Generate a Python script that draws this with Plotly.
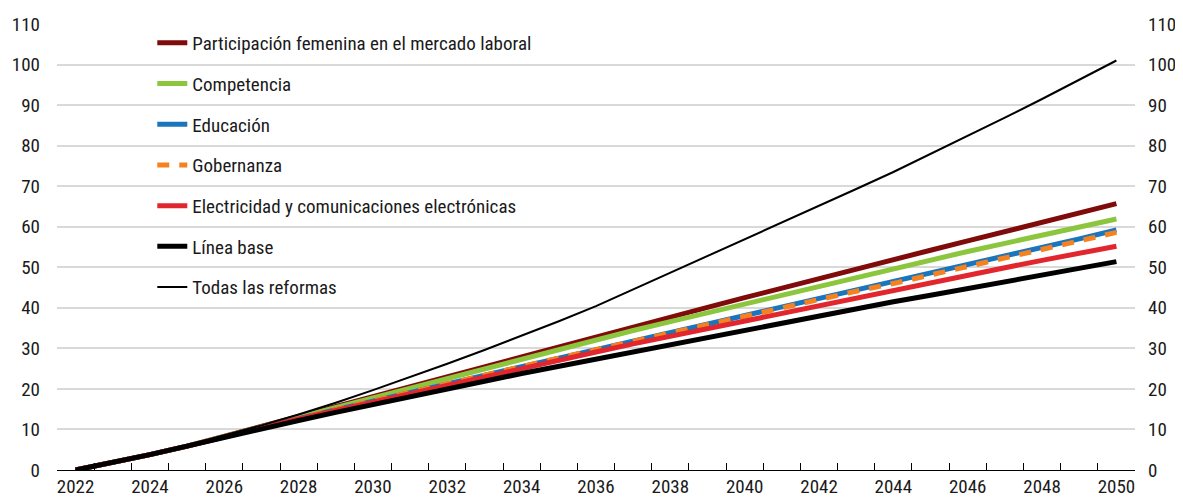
import plotly.graph_objects as go

anios = list(range(2022, 2051))

participacion = [0, 1.8, 3.8, 5.9, 8.3, 10.7, 13.2, 15.6, 18.0, 20.4, 22.9, 25.4, 27.9, 30.4, 32.9,
                 35.3, 37.7, 40.1, 42.5, 44.9, 47.3, 49.6, 51.9, 54.2, 56.5, 58.8, 61.1, 63.4, 65.7]
competencia = [0, 1.8, 3.8, 5.9, 8.3, 10.7, 13.1, 15.5, 17.9, 20.3, 22.7, 25.1, 27.5, 29.9, 32.2,
               34.4, 36.6, 38.8, 41.0, 43.2, 45.4, 47.6, 49.7, 51.8, 53.9, 55.9, 57.9, 59.9, 61.9]
educacion = [0, 1.8, 3.8, 5.9, 8.2, 10.4, 12.7, 14.9, 17.0, 19.2, 21.3, 23.4, 25.5, 27.6, 29.7,
             31.8, 33.9, 36.0, 38.0, 40.1, 42.1, 44.1, 46.2, 48.3, 50.5, 52.6, 54.8, 57.0, 59.2]
gobernanza = [0, 1.8, 3.8, 5.9, 8.2, 10.4, 12.7, 14.9, 17.0, 19.2, 21.3, 23.4, 25.5, 27.6, 29.7,
              31.8, 33.9, 36.0, 38.0, 40.1, 42.1, 44.1, 46.0, 48.1, 50.2, 52.3, 54.4, 56.5, 58.6]
electricidad = [0, 1.8, 3.8, 5.9, 8.2, 10.4, 12.6, 14.7, 16.8, 18.9, 21.0, 23.1, 25.1, 27.1, 29.1,
                31.1, 33.0, 35.0, 36.9, 38.8, 40.7, 42.6, 44.5, 46.3, 48.1, 49.9, 51.7, 53.5, 55.2]
linea_base = [0, 1.8, 3.8, 5.9, 8.1, 10.2, 12.2, 14.2, 16.2, 18.1, 20.0, 21.9, 23.8, 25.6, 27.4,
              29.2, 31.0, 32.8, 34.6, 36.4, 38.1, 39.8, 41.5, 43.1, 44.8, 46.4, 48.0, 49.7, 51.4]
todas = [0, 1.9, 3.9, 6.1, 8.5, 11.0, 13.7, 16.6, 19.7, 22.9, 26.2, 29.6, 33.1, 36.7, 40.4,
         44.5, 48.8, 52.9, 57.0, 61.1, 65.2, 69.3, 73.5, 77.9, 82.4, 86.9, 91.5, 96.2, 101.0]

etiquetas_x = list(range(2022, 2051, 2))
ticks_y = list(range(0, 111, 10))

fuente = 'Liberation Sans Narrow, Arial Narrow, Roboto Condensed, DejaVu Sans Condensed, sans-serif'

series = [
    ('Participación femenina en el mercado laboral', participacion, '#800b0b', 5, 'solid'),
    ('Competencia', competencia, '#8cc63f', 5, 'solid'),
    ('Educación', educacion, '#1b75bc', 5, 'solid'),
    ('Gobernanza', gobernanza, '#f58220', 5, '12px,10px'),
    ('Electricidad y comunicaciones electrónicas', electricidad, '#e1262d', 5, 'solid'),
    ('Línea base', linea_base, '#000000', 5, 'solid'),
    ('Todas las reformas', todas, '#000000', 2, 'solid'),
]

fig = go.Figure()

for i, (nombre, valores, color, ancho, guion) in enumerate(series):
    fig.add_trace(go.Scatter(x=anios, y=valores, name=nombre, mode='lines',
                             legendgroup=str(i),
                             line=dict(color=color, width=ancho, dash=guion)))

# ejes secundarios: etiquetas de años y eje derecho
fig.add_trace(go.Scatter(x=anios[:1], y=[0], xaxis='x2', yaxis='y2', mode='lines', opacity=0,
                         showlegend=False, hoverinfo='skip'))

# marcas entre categorías
limites = [a - 0.5 for a in anios] + [anios[-1] + 0.5]

# la página tiene 8px de margen en el body, se descuenta aquí
fig.update_layout(
    width=1175,
    height=490,
    margin=dict(l=49, r=48, t=16, b=28),
    paper_bgcolor='white',
    plot_bgcolor='white',
    font=dict(family=fuente, size=19, color='#1a1a1a'),
    showlegend=True,
    legend=dict(x=0.0884, y=1.0, xanchor='left', yanchor='top',
                bgcolor='rgba(0,0,0,0)', tracegroupgap=13,
                font=dict(family=fuente, size=19, color='#1a1a1a')),
    xaxis=dict(range=[2021.5, 2050.5], tickmode='array', tickvals=limites,
               ticktext=[''] * len(limites), ticks='inside', ticklen=7,
               tickcolor='#000000', tickwidth=1,
               showgrid=False, zeroline=False, automargin=False,
               showline=True, linecolor='#000000', linewidth=1),
    xaxis2=dict(range=[2021.5, 2050.5], overlaying='x', side='bottom', anchor='y2',
                tickmode='array', tickvals=etiquetas_x, ticks='', showgrid=False,
                zeroline=False, showline=False, automargin=False, ticklabelstandoff=3),
    yaxis=dict(range=[0, 110], tickmode='array', tickvals=ticks_y,
               showgrid=True, gridcolor='#d9d9d9', gridwidth=2, automargin=False,
               zeroline=False, showline=False, ticks='', ticklabelstandoff=16),
    yaxis2=dict(range=[0, 110], tickmode='array', tickvals=ticks_y, overlaying='y',
                side='right', anchor='x2', showgrid=False, zeroline=False, showline=False,
                automargin=False, ticks='', ticklabelstandoff=12),
)

fig.write_html("out.html")
